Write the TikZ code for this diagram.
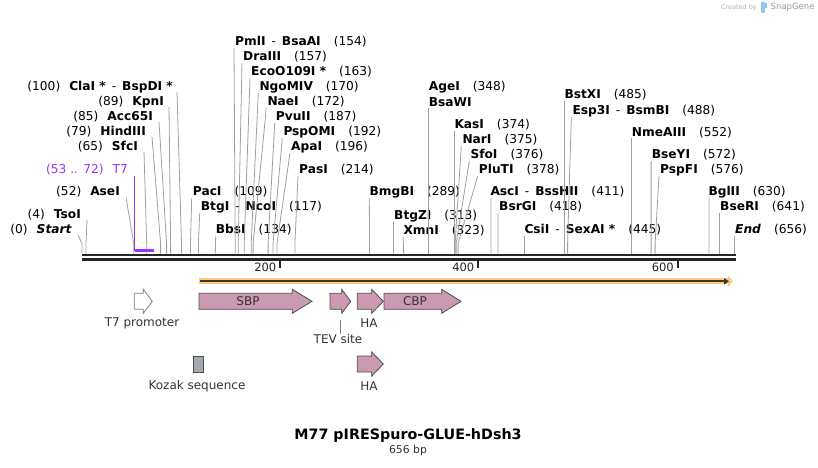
\documentclass[tikz,border=0pt]{standalone}
\usepackage{fontspec}
\setmainfont{DejaVu Sans}
\usetikzlibrary{arrows.meta}

\definecolor{taglio}{HTML}{A0A0A0}
\definecolor{viola}{HTML}{9933FF}
\definecolor{rosa}{HTML}{CC99B3}
\definecolor{bordo}{HTML}{4D4D4D}
\definecolor{arancio}{HTML}{FACB80}
\definecolor{scuro}{HTML}{262626}
\definecolor{marrone}{HTML}{3D3428}
\definecolor{grigio}{HTML}{A3A8B1}
\definecolor{testo}{HTML}{333333}
\definecolor{snapblu}{HTML}{8FC8F0}

\begin{document}
\begin{tikzpicture}[x=1pt, y=-1pt,
    every node/.style={inner sep=0pt, font=\fontsize{12.2}{14}\selectfont},
    enzL/.style={anchor=east},
    enzR/.style={anchor=west},
    cut/.style={draw=taglio, line width=0.8pt},
    primer/.style={draw=viola, line width=1.4pt},
    feat/.style={draw=bordo, line width=0.8pt, fill=rosa},
    lab/.style={text=testo, font=\fontsize{12}{14}\selectfont}]

    \useasboundingbox (0,0) rectangle (818,467);

    % Siti sulla sequenza
    \coordinate (c0) at (82,253.5);
    \coordinate (c4) at (86,253.5);
    \coordinate (c52) at (133.7,253.5);
    \coordinate (c53) at (134.7,250.5);
    \coordinate (c72) at (153.6,250.5);
    \coordinate (c65) at (146.7,253.5);
    \coordinate (c79) at (160.6,253.5);
    \coordinate (c85) at (166.6,253.5);
    \coordinate (c89) at (170.6,253.5);
    \coordinate (c100) at (181.5,253.5);
    \coordinate (c109) at (190.5,253.5);
    \coordinate (c117) at (198.4,253.5);
    \coordinate (c134) at (215.3,253.5);
    \coordinate (c154) at (235.2,253.5);
    \coordinate (c157) at (238.2,253.5);
    \coordinate (c163) at (244.2,253.5);
    \coordinate (c170) at (251.2,253.5);
    \coordinate (c172) at (253.1,253.5);
    \coordinate (c187) at (268.1,253.5);
    \coordinate (c192) at (273,253.5);
    \coordinate (c196) at (277,253.5);
    \coordinate (c214) at (294.9,253.5);
    \coordinate (c289) at (369.6,253.5);
    \coordinate (c313) at (393.4,253.5);
    \coordinate (c323) at (403.4,253.5);
    \coordinate (c348) at (428.3,253.5);
    \coordinate (c374) at (454.1,253.5);
    \coordinate (c375) at (455.1,253.5);
    \coordinate (c376) at (456.1,253.5);
    \coordinate (c378) at (458.1,253.5);
    \coordinate (c411) at (490.9,253.5);
    \coordinate (c418) at (497.9,253.5);
    \coordinate (c445) at (524.8,253.5);
    \coordinate (c485) at (564.6,253.5);
    \coordinate (c488) at (567.6,253.5);
    \coordinate (c552) at (631.2,253.5);
    \coordinate (c572) at (651.1,253.5);
    \coordinate (c576) at (655.1,253.5);
    \coordinate (c630) at (708.9,253.5);
    \coordinate (c641) at (719.8,253.5);
    \coordinate (c656) at (734.7,253.5);

    % Enzimi a sinistra
    \node[enzL] (start) at (72,230) {(0)\hspace{9pt}\textbf{\textit{Start}}};
    \node[enzL] (tsoI) at (81,215) {(4)\hspace{9pt}\textbf{TsoI}};
    \node[enzL] (aseI) at (120,192) {(52)\hspace{9pt}\textbf{AseI}};
    \node[enzL, text=viola] (t7) at (128,170) {(53 .. 72)\hspace{9pt}T7};
    \node[enzL] (sfcI) at (138,147) {(65)\hspace{9pt}\textbf{SfcI}};
    \node[enzL] (hindIII) at (146,132) {(79)\hspace{9pt}\textbf{HindIII}};
    \node[enzL] (acc65I) at (153,117) {(85)\hspace{9pt}\textbf{Acc65I}};
    \node[enzL] (kpnI) at (164,102) {(89)\hspace{9pt}\textbf{KpnI}};
    \node[enzL] (claI) at (173,87) {(100)\hspace{9pt}\textbf{ClaI *}\hspace{6pt}-\hspace{6pt}\textbf{BspDI *}};

    % Enzimi a destra
    \node[enzR] (pmlI) at (235,42) {\textbf{PmlI}\hspace{6pt}-\hspace{6pt}\textbf{BsaAI}\hspace{13pt}(154)};
    \node[enzR] (draIII) at (243,57) {\textbf{DraIII}\hspace{13pt}(157)};
    \node[enzR] (ecoO109I) at (251,72) {\textbf{EcoO109I *}\hspace{13pt}(163)};
    \node[enzR] (ngoMIV) at (259.3,87) {\textbf{NgoMIV}\hspace{13pt}(170)};
    \node[enzR] (naeI) at (267.3,102) {\textbf{NaeI}\hspace{13pt}(172)};
    \node[enzR] (pvuII) at (275.7,117) {\textbf{PvuII}\hspace{13pt}(187)};
    \node[enzR] (pspOMI) at (283.3,132) {\textbf{PspOMI}\hspace{13pt}(192)};
    \node[enzR] (apaI) at (291,147) {\textbf{ApaI}\hspace{13pt}(196)};
    \node[enzR] (pasI) at (299,170) {\textbf{PasI}\hspace{13pt}(214)};
    \node[enzR] (pacI) at (192.7,192) {\textbf{PacI}\hspace{13pt}(109)};
    \node[enzR] (btgI) at (200.7,207) {\textbf{BtgI}\hspace{6pt}-\hspace{6pt}\textbf{NcoI}\hspace{13pt}(117)};
    \node[enzR] (bbsI) at (215.7,230) {\textbf{BbsI}\hspace{13pt}(134)};
    \node[enzR] (bmgBI) at (369.3,192) {\textbf{BmgBI}\hspace{13pt}(289)};
    \node[enzR] (btgZI) at (394,215.7) {\textbf{BtgZI}\hspace{13pt}(313)};
    \node[enzR] (xmnI) at (403.3,230.7) {\textbf{XmnI}\hspace{13pt}(323)};
    \node[enzR] (ageI) at (428.7,86.7) {\textbf{AgeI}\hspace{13pt}(348)};
    \node[enzR] (bsaWI) at (428.7,102.3) {\textbf{BsaWI}};
    \node[enzR] (kasI) at (454.3,125) {\textbf{KasI}\hspace{13pt}(374)};
    \node[enzR] (narI) at (462.3,140) {\textbf{NarI}\hspace{13pt}(375)};
    \node[enzR] (sfoI) at (470.3,155) {\textbf{SfoI}\hspace{13pt}(376)};
    \node[enzR] (pluTI) at (478.7,170) {\textbf{PluTI}\hspace{13pt}(378)};
    \node[enzR] (ascI) at (490.3,192) {\textbf{AscI}\hspace{6pt}-\hspace{6pt}\textbf{BssHII}\hspace{13pt}(411)};
    \node[enzR] (bsrGI) at (499,206.7) {\textbf{BsrGI}\hspace{13pt}(418)};
    \node[enzR] (csiI) at (524.3,230) {\textbf{CsiI}\hspace{6pt}-\hspace{6pt}\textbf{SexAI *}\hspace{13pt}(445)};
    \node[enzR] (bstXI) at (564.3,95) {\textbf{BstXI}\hspace{13pt}(485)};
    \node[enzR] (esp3I) at (572.3,110.7) {\textbf{Esp3I}\hspace{6pt}-\hspace{6pt}\textbf{BsmBI}\hspace{13pt}(488)};
    \node[enzR] (nmeAIII) at (631.7,132.3) {\textbf{NmeAIII}\hspace{13pt}(552)};
    \node[enzR] (bseYI) at (651.7,155) {\textbf{BseYI}\hspace{13pt}(572)};
    \node[enzR] (pspFI) at (660,170) {\textbf{PspFI}\hspace{13pt}(576)};
    \node[enzR] (bglII) at (708.3,191.7) {\textbf{BglII}\hspace{13pt}(630)};
    \node[enzR] (bseRI) at (720,206.7) {\textbf{BseRI}\hspace{13pt}(641)};
    \node[enzR] (end) at (735,230) {\textbf{\textit{End}}\hspace{13pt}(656)};

    % Linee dei siti
    \draw[cut] ([shift={(6pt,-5pt)}]start.east) -- ([yshift=10pt]c0) -- (c0);
    \draw[cut] ([shift={(6pt,-5pt)}]tsoI.east) -- ([yshift=10pt]c4) -- (c4);
    \draw[cut] ([shift={(6pt,-5pt)}]aseI.east) -- ([yshift=10pt]c52) -- (c52);
    \draw[cut] ([shift={(6pt,-5pt)}]sfcI.east) -- ([yshift=10pt]c65) -- (c65);
    \draw[cut] ([shift={(6pt,-5pt)}]hindIII.east) -- ([yshift=10pt]c79) -- (c79);
    \draw[cut] ([shift={(6pt,-5pt)}]acc65I.east) -- ([yshift=10pt]c85) -- (c85);
    \draw[cut] ([shift={(5pt,-5pt)}]kpnI.east) -- ([yshift=10pt]c89) -- (c89);
    \draw[cut] ([shift={(4pt,-5pt)}]claI.east) -- ([yshift=10pt]c100) -- (c100);
    \draw[cut] ([shift={(-1pt,-6pt)}]pmlI.west) -- ([yshift=10pt]c154) -- (c154);
    \draw[cut] ([shift={(-1pt,-6pt)}]draIII.west) -- ([yshift=10pt]c157) -- (c157);
    \draw[cut] ([shift={(-1pt,-6pt)}]ecoO109I.west) -- ([yshift=10pt]c163) -- (c163);
    \draw[cut] ([shift={(-1pt,-6pt)}]ngoMIV.west) -- ([yshift=10pt]c170) -- (c170);
    \draw[cut] ([shift={(-1pt,-6pt)}]naeI.west) -- ([yshift=10pt]c172) -- (c172);
    \draw[cut] ([shift={(-1pt,-6pt)}]pvuII.west) -- ([yshift=10pt]c187) -- (c187);
    \draw[cut] ([shift={(-1pt,-6pt)}]pspOMI.west) -- ([yshift=10pt]c192) -- (c192);
    \draw[cut] ([shift={(-1pt,-6pt)}]apaI.west) -- ([yshift=10pt]c196) -- (c196);
    \draw[cut] ([shift={(-1pt,-6pt)}]pasI.west) -- ([yshift=10pt]c214) -- (c214);
    \draw[cut] ([shift={(-1pt,-6pt)}]pacI.west) -- ([yshift=10pt]c109) -- (c109);
    \draw[cut] ([shift={(-1pt,-6pt)}]btgI.west) -- ([yshift=10pt]c117) -- (c117);
    \draw[cut] ([shift={(0pt,-6pt)}]bbsI.west) -- (c134);
    \draw[cut] ([shift={(0pt,-6pt)}]bmgBI.west) -- (c289);
    \draw[cut] ([shift={(-0.5pt,-6pt)}]btgZI.west) -- (c313);
    \draw[cut] ([shift={(0pt,-6pt)}]xmnI.west) -- (c323);
    \draw[cut] ([shift={(-0.4pt,-6pt)}]bsaWI.west) -- (c348);
    \draw[cut] ([shift={(-0.2pt,-6pt)}]kasI.west) -- (c374);
    \draw[cut] ([shift={(-1pt,-6pt)}]narI.west) -- ([yshift=10pt]c375) -- (c375);
    \draw[cut] ([shift={(-1pt,-6pt)}]sfoI.west) -- ([yshift=10pt]c376) -- (c376);
    \draw[cut] ([shift={(-1pt,-6pt)}]pluTI.west) -- ([yshift=10pt]c378) -- (c378);
    \draw[cut] ([shift={(0.6pt,-6pt)}]ascI.west) -- (c411);
    \draw[cut] ([shift={(-1pt,-6pt)}]bsrGI.west) -- ([yshift=10pt]c418) -- (c418);
    \draw[cut] ([shift={(0.5pt,-6pt)}]csiI.west) -- (c445);
    \draw[cut] ([shift={(0.3pt,-6pt)}]bstXI.west) -- (c485);
    \draw[cut] ([shift={(-1pt,-6pt)}]esp3I.west) -- ([yshift=10pt]c488) -- (c488);
    \draw[cut] ([shift={(-0.5pt,-6pt)}]nmeAIII.west) -- (c552);
    \draw[cut] ([shift={(-0.6pt,-6pt)}]bseYI.west) -- (c572);
    \draw[cut] ([shift={(-1pt,-6pt)}]pspFI.west) -- ([yshift=10pt]c576) -- (c576);
    \draw[cut] ([shift={(0.6pt,-6pt)}]bglII.west) -- (c630);
    \draw[cut] ([shift={(-0.2pt,-6pt)}]bseRI.west) -- (c641);
    \draw[cut] ([shift={(-0.3pt,-6pt)}]end.west) -- (c656);

    % Primer T7
    \draw[primer] (c53 |- t7.south) -- (c53);
    \draw[primer, line width=2.6pt] (c53) -- (c72);

    % Sequenza
    \draw[scuro, line width=2.6pt] (82,254.8) -- (736,254.8);
    \draw[scuro, line width=2.6pt] (82,259.7) -- (736,259.7);
    \draw[scuro, line width=1.8pt] (280,261) -- (280,267.5);
    \draw[scuro, line width=1.8pt] (478,261) -- (478,267.5);
    \draw[scuro, line width=1.8pt] (677.7,261) -- (677.7,267.5);
    \node[anchor=east, text=scuro, font=\fontsize{11.5}{13}\selectfont] (t200) at (276.5,267) {200};
    \node[anchor=east, text=scuro, font=\fontsize{11.5}{13}\selectfont] (t400) at (474.5,267) {400};
    \node[anchor=east, text=scuro, font=\fontsize{11.5}{13}\selectfont] (t600) at (674,267) {600};

    % ORF
    \draw[arancio, line width=6pt, -{Triangle[length=5pt,width=11pt]}] (199,281.3) -- (733,281.3);
    \draw[marrone, line width=1.8pt, -{Triangle[length=5pt,width=6pt]}] (200,281.3) -- (729,281.3);

    % Elementi
    \draw[draw=bordo!70, line width=0.8pt, fill=white] (134.3,293.3) -- (143.3,293.3) -- (143.3,289.3) -- (152.3,301.3) -- (143.3,313.3) -- (143.3,309.3) -- (134.3,309.3) -- cycle;
    \draw[feat] (199,293.3) -- (292.3,293.3) -- (292.3,289.3) -- (312,301.3) -- (292.3,313.3) -- (292.3,309.3) -- (199,309.3) -- cycle;
    \draw[feat] (330,293.3) -- (341.7,293.3) -- (341.7,289.3) -- (350.7,301.3) -- (341.7,313.3) -- (341.7,309.3) -- (330,309.3) -- cycle;
    \draw[feat] (357.3,293.3) -- (371.7,293.3) -- (371.7,289.3) -- (383.3,301.3) -- (371.7,313.3) -- (371.7,309.3) -- (357.3,309.3) -- cycle;
    \draw[feat] (384,293.3) -- (441.7,293.3) -- (441.7,289.3) -- (461,301.3) -- (441.7,313.3) -- (441.7,309.3) -- (384,309.3) -- cycle;
    \draw[feat] (357.3,356) -- (371.7,356) -- (371.7,352) -- (383.3,364) -- (371.7,376) -- (371.7,372) -- (357.3,372) -- cycle;
    \draw[draw=bordo, line width=0.8pt, fill=grigio] (193.3,356) rectangle (203.7,372.7);

    \node[lab] (sbp) at (248,301.3) {SBP};
    \node[lab] (cbp) at (415,301.3) {CBP};
    \node[lab] (t7prom) at (142,323) {T7 promoter};
    \node[lab] (ha) at (369,323) {HA};
    \node[lab] (tev) at (338,339) {TEV site};
    \coordinate (tevtop) at (340,320);
    \draw[draw=bordo!70, line width=0.7pt] (tevtop) -- (tev.north -| tevtop);
    \node[lab] (kozak) at (197,386) {Kozak sequence};
    \node[lab] (ha2) at (369,386) {HA};

    % Titolo
    \node[font=\bfseries\fontsize{14.3}{17}\selectfont] (titolo) at (408,436) {M77 pIRESpuro-GLUE-hDsh3};
    \node[font=\fontsize{10.8}{12}\selectfont, text=testo] (lunghezza) at (408,451) {656 bp};

    % SnapGene
    \node[anchor=east, text=black!30, font=\fontsize{6.5}{8}\selectfont] (creato) at (757,7.5) {Created by};
    \fill[snapblu] (761,2) rectangle (764.5,13);
    \fill[snapblu] (764.5,3) rectangle (767,8);
    \node[anchor=west, text=black!40, font=\fontsize{8.5}{10}\selectfont] (snapgene) at (770.5,7.5) {SnapGene};
\end{tikzpicture}
\end{document}
